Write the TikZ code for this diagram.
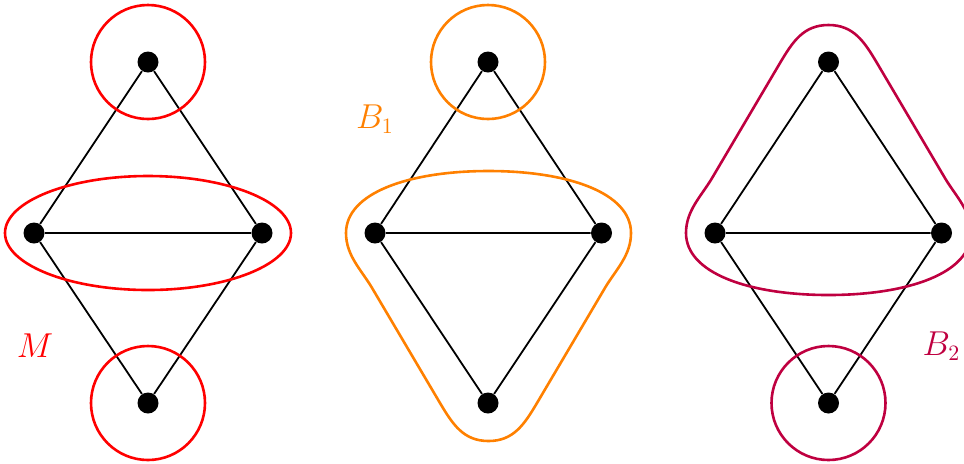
\documentclass[tikz,border=0pt]{standalone}
\usetikzlibrary{calc}
\begin{document}
\begin{tikzpicture}[x=0.5pt,y=-0.5pt,
  vtx/.style={circle,fill=black,inner sep=0pt,minimum size=10.5pt},
  edge/.style={draw=black,line width=0.9pt},
  blob/.style={line width=1.3pt},
  lbl/.style={font=\fontsize{16}{19}\selectfont}]
\useasboundingbox (0,0) rectangle (964,463);
\def\blobpath{(-142.5,0) .. controls (-142.5,-40) and (-80,-62) .. (0,-62)
  .. controls (80,-62) and (142.5,-40) .. (142.5,0)
  .. controls (142.5,22) and (128,36) .. (117,54)
  -- (48.5,170) .. controls (35.7,191.5) and (25,208) .. (0,208)
  .. controls (-25,208) and (-35.7,191.5) .. (-48.5,170)
  -- (-117,54) .. controls (-128,36) and (-142.5,22) .. cycle}
% graph 1
\node[vtx] (a1) at (148,62) {};
\node[vtx] (b1) at (34,233) {};
\node[vtx] (c1) at (262,233) {};
\node[vtx] (d1) at (148,403) {};
% graph 2
\node[vtx] (a2) at (488,62) {};
\node[vtx] (b2) at (375,233) {};
\node[vtx] (c2) at (601.5,233) {};
\node[vtx] (d2) at (488,403) {};
% graph 3
\node[vtx] (a3) at (828.5,62) {};
\node[vtx] (b3) at (715,233) {};
\node[vtx] (c3) at (941.5,233) {};
\node[vtx] (d3) at (828.5,403) {};
\foreach \g in {1,2,3}{
  \draw[edge] (a\g) -- (b\g) (a\g) -- (c\g) (b\g) -- (c\g) (b\g) -- (d\g) (c\g) -- (d\g);
}
% graph 1 sets
\draw[red,blob] (a1) circle[radius=28.5pt];
\draw[red,blob] (d1) circle[radius=28.5pt];
\draw[red,blob] ($(b1)!0.5!(c1)$) ellipse[x radius=71.5pt,y radius=28.5pt];
% graph 2 sets
\draw[orange,blob] (a2) circle[radius=28.5pt];
\begin{scope}[shift={(488.5,233)}]
\draw[orange,blob] \blobpath;
\end{scope}
% graph 3 sets
\draw[purple,blob] (d3) circle[radius=28.5pt];
\begin{scope}[shift={(828.5,233)},yscale=-1]
\draw[purple,blob] \blobpath;
\end{scope}
% labels
\node[lbl,text=red] (lm) at (35,346) {$M$};
\node[lbl,text=orange] (lb1) at (375,119) {$B_1$};
\node[lbl,text=purple] (lb2) at (941.5,346) {$B_2$};
\end{tikzpicture}
\end{document}
